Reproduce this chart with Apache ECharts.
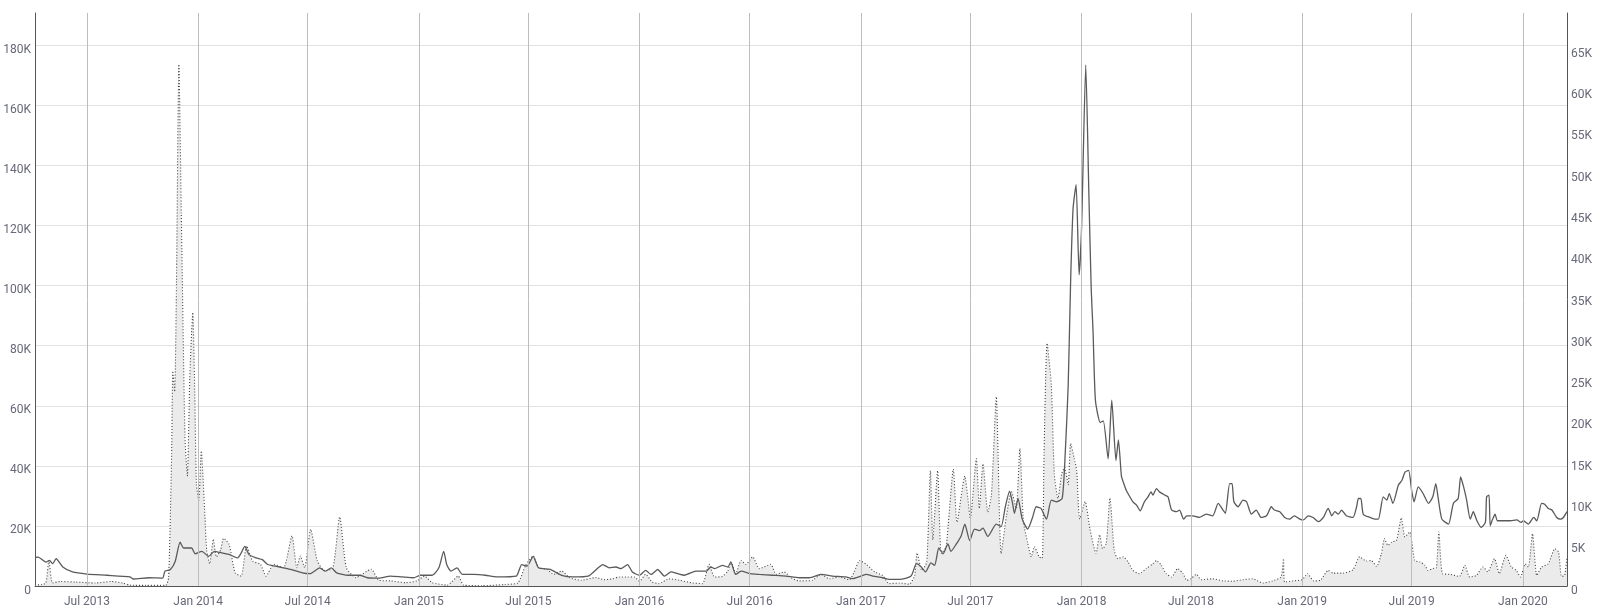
<!DOCTYPE html>
<html>
<head>
<meta charset="utf-8">
<script src="https://cdn.jsdelivr.net/npm/echarts@6/dist/echarts.min.js"></script>
<style>
html,body{margin:0;padding:0;background:#fff;}
#chart{width:1600px;height:614px;}
</style>
</head>
<body>
<div id="chart"></div>
<script>
// ---- Data (values in thousands) ----
// Dotted series with grey area (left axis)
const areaDates = ['2013-04-06','2013-04-17','2013-04-24','2013-04-29','2013-05-05','2013-05-18','2013-06-13','2013-07-15','2013-08-10','2013-08-29','2013-09-10','2013-10-06','2013-11-08','2013-11-13','2013-11-18','2013-11-20','2013-11-23','2013-11-26','2013-11-30','2013-12-04','2013-12-10','2013-12-14','2013-12-18','2013-12-21','2013-12-23','2013-12-26','2013-12-29','2014-01-02','2014-01-06','2014-01-12','2014-01-15','2014-01-20','2014-01-26','2014-01-31','2014-02-07','2014-02-12','2014-02-21','2014-03-03','2014-03-13','2014-03-22','2014-04-01','2014-04-14','2014-04-23','2014-05-06','2014-05-22','2014-06-05','2014-06-13','2014-06-19','2014-06-26','2014-07-06','2014-07-17','2014-07-30','2014-08-12','2014-08-23','2014-09-03','2014-09-19','2014-10-14','2014-10-27','2014-11-15','2014-12-10','2014-12-29','2015-01-10','2015-01-23','2015-02-17','2015-03-07','2015-03-16','2015-04-15','2015-05-23','2015-06-14','2015-06-26','2015-07-09','2015-07-18','2015-07-31','2015-08-12','2015-08-25','2015-09-07','2015-09-26','2015-10-21','2015-11-03','2015-11-17','2015-11-28','2015-12-12','2015-12-23','2016-01-01','2016-01-11','2016-01-22','2016-02-02','2016-02-19','2016-03-07','2016-03-29','2016-04-14','2016-04-25','2016-05-04','2016-05-17','2016-05-26','2016-05-31','2016-06-08','2016-06-17','2016-06-25','2016-07-06','2016-07-17','2016-08-05','2016-08-14','2016-08-27','2016-09-07','2016-09-21','2016-10-13','2016-10-27','2016-11-10','2016-11-26','2016-12-13','2016-12-21','2016-12-30','2017-01-10','2017-01-24','2017-02-06','2017-02-17','2017-03-06','2017-03-22','2017-03-31','2017-04-04','2017-04-12','2017-04-20','2017-04-26','2017-04-30','2017-05-08','2017-05-14','2017-05-22','2017-06-03','2017-06-09','2017-06-22','2017-06-27','2017-07-01','2017-07-11','2017-07-16','2017-07-22','2017-07-30','2017-08-05','2017-08-13','2017-08-21','2017-08-30','2017-09-07','2017-09-15','2017-09-21','2017-09-27','2017-10-04','2017-10-10','2017-10-15','2017-10-23','2017-10-28','2017-10-31','2017-11-05','2017-11-12','2017-11-17','2017-11-23','2017-11-29','2017-12-04','2017-12-10','2017-12-14','2017-12-20','2017-12-24','2017-12-29','2018-01-07','2018-01-15','2018-01-25','2018-01-31','2018-02-05','2018-02-11','2018-02-17','2018-02-24','2018-03-02','2018-03-11','2018-03-19','2018-03-27','2018-04-07','2018-04-18','2018-04-29','2018-05-05','2018-05-13','2018-05-21','2018-05-30','2018-06-09','2018-06-18','2018-06-24','2018-07-01','2018-07-10','2018-07-18','2018-08-06','2018-08-23','2018-09-08','2018-09-25','2018-10-11','2018-10-28','2018-11-13','2018-11-27','2018-12-01','2018-12-03','2018-12-17','2019-01-01','2019-01-10','2019-01-20','2019-01-31','2019-02-13','2019-02-21','2019-03-10','2019-03-26','2019-04-06','2019-04-17','2019-04-25','2019-05-04','2019-05-12','2019-05-17','2019-05-23','2019-05-29','2019-06-06','2019-06-14','2019-06-20','2019-06-28','2019-07-06','2019-07-15','2019-07-23','2019-07-28','2019-08-05','2019-08-11','2019-08-15','2019-08-21','2019-09-02','2019-09-18','2019-09-27','2019-10-05','2019-10-16','2019-10-27','2019-11-04','2019-11-15','2019-11-23','2019-12-04','2019-12-13','2019-12-21','2019-12-28','2020-01-05','2020-01-10','2020-01-17','2020-01-24','2020-02-01','2020-02-12','2020-02-23','2020-02-29','2020-03-05','2020-03-10','2020-03-14'];
const areaValues = [0.3,0.5,1.0,8.5,1.0,1.5,1.3,1.0,1.5,1.0,0.3,0.2,0.2,2.8,44,71.6,64.7,101,173.7,124,49.8,36.6,69.3,84.2,91.1,67,33.8,28.6,45,23.5,12,7.4,15.6,9.7,12,15.9,13.9,4.4,3.3,13.3,8.3,7.2,3.3,7.2,6.1,16.7,6.1,10,6.1,18.9,8.3,5,6.1,23,6.1,2.8,5.6,1.9,1.7,1.1,1.7,3.3,1.1,0.3,3.3,0.3,0.1,0.5,1.1,6.7,10,6.1,5.6,3.9,5,2.8,1.9,2.8,2.1,2.4,3.0,3.0,3.0,1.6,3.9,1.3,0.8,2.4,1.9,1.0,0.8,7.2,3.0,3.2,5.0,8.0,4.1,8.5,7.2,9.7,5.8,7.2,3.9,4.7,2.8,1.7,1.9,3.9,2.4,3.0,2.1,4.7,8.5,7.2,4.7,3.5,0.8,1.0,0.6,3.5,11,5.2,8,38.4,15.4,38.4,10.8,13.1,38.9,21.2,36.6,29.2,22.3,42.4,25.8,40.7,24.6,30.3,63.0,10.8,23.5,31.5,25.8,45.8,21.2,14.3,9.7,13.1,9.7,9.2,44.1,80.8,67,37.2,29.2,37.2,39.5,33.7,47.5,42.4,38.4,22.3,28.1,18.9,10.8,17.1,12.4,14.3,29.3,12,9.1,9.7,8.0,5.2,4.1,5.8,7.4,8.5,6.9,4.1,3.0,5.8,4.1,1.9,2.4,3.9,2.1,2.4,1.7,1.6,2.1,2.4,1.0,1.7,3.0,9.1,1.3,1.7,2.1,4.1,1.7,1.9,5.2,4.3,4.3,5.4,9.7,8.3,8.5,6.5,10.8,15.8,13.5,14.6,15.2,22.7,16.3,18,8.5,8.0,6.9,5.2,5.8,6.1,18.0,4.1,3.9,3.2,6.9,3.0,3.5,6.3,4.7,9.1,4.1,10.2,6.3,5.2,3.0,7.4,6.3,17.4,3.5,6.3,7.4,12.4,11.3,3.2,3.5,9.7];

// Solid line series (right axis)
const lineDates = ['2013-04-06','2013-04-11','2013-04-24','2013-04-30','2013-05-05','2013-05-11','2013-05-22','2013-06-07','2013-07-01','2013-08-03','2013-09-10','2013-09-16','2013-10-12','2013-11-03','2013-11-07','2013-11-16','2013-11-24','2013-12-02','2013-12-08','2013-12-21','2013-12-27','2014-01-07','2014-01-18','2014-01-28','2014-02-09','2014-02-22','2014-03-07','2014-03-13','2014-03-19','2014-03-26','2014-04-07','2014-04-17','2014-04-26','2014-05-09','2014-05-22','2014-06-03','2014-06-22','2014-07-05','2014-07-21','2014-07-30','2014-08-09','2014-08-18','2014-09-06','2014-09-25','2014-10-08','2014-10-27','2014-11-15','2014-12-04','2014-12-23','2015-01-04','2015-01-23','2015-02-03','2015-02-11','2015-02-16','2015-02-23','2015-03-05','2015-03-14','2015-04-02','2015-04-21','2015-05-10','2015-06-11','2015-06-20','2015-06-29','2015-07-09','2015-07-18','2015-08-06','2015-08-25','2015-09-13','2015-10-08','2015-10-26','2015-11-01','2015-11-12','2015-11-23','2015-12-01','2015-12-12','2015-12-20','2016-01-01','2016-01-11','2016-01-20','2016-01-31','2016-02-11','2016-02-22','2016-03-04','2016-03-15','2016-04-03','2016-04-20','2016-04-28','2016-05-04','2016-05-17','2016-05-26','2016-05-31','2016-06-08','2016-06-17','2016-07-02','2016-07-17','2016-08-08','2016-08-30','2016-09-21','2016-10-08','2016-10-27','2016-11-15','2016-12-07','2016-12-18','2017-01-01','2017-01-10','2017-01-21','2017-02-06','2017-02-17','2017-03-06','2017-03-25','2017-04-03','2017-04-11','2017-04-18','2017-04-27','2017-05-03','2017-05-10','2017-05-17','2017-05-25','2017-05-30','2017-06-08','2017-06-16','2017-06-22','2017-06-30','2017-07-08','2017-07-16','2017-07-22','2017-07-30','2017-08-13','2017-08-21','2017-08-28','2017-09-04','2017-09-09','2017-09-12','2017-09-18','2017-09-25','2017-10-04','2017-10-12','2017-10-18','2017-10-26','2017-11-04','2017-11-12','2017-11-20','2017-11-30','2017-12-05','2017-12-10','2017-12-14','2017-12-18','2017-12-23','2017-12-28','2018-01-01','2018-01-08','2018-01-13','2018-01-17','2018-01-20','2018-01-24','2018-02-01','2018-02-06','2018-02-14','2018-02-20','2018-02-27','2018-03-03','2018-03-08','2018-03-11','2018-03-16','2018-03-22','2018-03-27','2018-04-02','2018-04-08','2018-04-15','2018-04-21','2018-04-26','2018-04-29','2018-05-05','2018-05-10','2018-05-19','2018-05-24','2018-05-30','2018-06-07','2018-06-12','2018-06-19','2018-06-24','2018-07-04','2018-07-15','2018-07-26','2018-08-06','2018-08-15','2018-08-23','2018-08-27','2018-09-03','2018-09-07','2018-09-10','2018-09-17','2018-09-25','2018-10-01','2018-10-09','2018-10-17','2018-10-25','2018-11-03','2018-11-11','2018-11-16','2018-11-25','2018-12-03','2018-12-11','2018-12-19','2018-12-28','2019-01-03','2019-01-11','2019-01-19','2019-01-28','2019-02-05','2019-02-13','2019-02-19','2019-02-24','2019-03-02','2019-03-07','2019-03-15','2019-03-26','2019-04-01','2019-04-04','2019-04-08','2019-04-12','2019-04-23','2019-05-01','2019-05-07','2019-05-15','2019-05-21','2019-05-25','2019-05-31','2019-06-09','2019-06-15','2019-06-20','2019-06-26','2019-07-01','2019-07-05','2019-07-12','2019-07-20','2019-07-29','2019-08-05','2019-08-10','2019-08-14','2019-08-20','2019-08-31','2019-09-08','2019-09-16','2019-09-20','2019-09-25','2019-09-30','2019-10-06','2019-10-11','2019-10-17','2019-10-24','2019-10-31','2019-11-02','2019-11-06','2019-11-08','2019-11-12','2019-11-16','2019-11-20','2019-11-30','2019-12-11','2019-12-22','2019-12-29','2020-01-02','2020-01-10','2020-01-19','2020-01-24','2020-02-01','2020-02-06','2020-02-12','2020-02-18','2020-02-26','2020-03-03','2020-03-08','2020-03-14'];
const lineValues = [3.45,3.5,2.9,3.1,2.7,3.3,2.3,1.7,1.45,1.3,1.1,0.85,1.0,0.95,1.8,2.0,3.0,5.3,4.6,4.6,3.9,4.2,3.6,4.2,4.0,3.8,3.4,4.0,4.8,3.8,3.4,3.2,2.6,2.4,2.2,2.0,1.6,1.5,2.2,1.8,2.2,1.6,1.3,1.3,1.0,0.95,1.2,1.1,1.0,1.3,1.3,2.2,4.2,2.6,1.8,2.2,1.4,1.4,1.3,1.1,1.2,2.6,2.4,3.6,2.2,2.0,1.3,1.1,1.2,2.3,2.6,2.2,2.3,2.1,2.6,1.7,1.3,1.9,1.4,2.0,1.2,1.7,1.5,1.3,1.8,1.8,2.3,2.1,2.5,2.3,2.9,1.4,1.8,1.5,1.4,1.3,1.2,1.0,1.0,1.4,1.2,1.1,0.9,1.2,1.4,1.2,1.0,0.8,0.8,1.2,2.7,2.3,1.7,2.8,2.5,4.6,3.9,5.1,4.2,5.1,6.1,7.5,5.5,6.9,6.7,7.0,6.0,7.5,7.2,9.6,11.5,10.0,8.8,10.6,8.1,6.9,8.3,9.6,9.4,8.1,10.4,10.2,10.6,16.0,24.4,37,45.7,48.6,37.7,43.2,63.1,48,36,31,22.5,19.8,20.0,15.4,22.5,15.2,17.7,13.3,12.6,11.6,10.8,10.2,9.8,9.1,10.2,10.8,11.4,11.0,11.8,11.4,11.0,10.8,9.2,9.0,9.2,8.1,8.5,8.5,8.3,8.7,8.5,10.0,9.2,8.8,12.4,12.4,10.2,9.6,10.4,10.2,8.7,9.2,8.3,8.5,9.6,9.2,9.0,8.3,8.1,8.5,8.1,8.0,8.5,8.3,7.8,8.3,9.4,8.5,9.0,8.7,9.2,8.5,8.3,9.6,10.6,10.6,8.7,8.3,8.1,8.1,10.8,10.4,11.2,10.0,12.2,12.8,13.8,14.0,11.6,10.2,12.0,11.2,10.0,10.8,12.4,10.6,8.1,7.5,10.0,10.6,13.2,12.0,10.4,8.1,9.0,7.9,7.1,7.7,10.8,11.0,7.3,8.1,8.7,7.9,7.9,7.9,8.0,7.7,7.9,7.5,8.3,7.9,10.0,9.9,9.4,9.2,8.3,8.1,8.3,9.0];

// Axis ticks
const xTickDates = ['2013-07-01','2014-01-01','2014-07-01','2015-01-01','2015-07-01','2016-01-01','2016-07-01','2017-01-01','2017-07-01','2018-01-01','2018-07-01','2019-01-01','2019-07-01','2020-01-01'];
const monthNames = ['Jan','Feb','Mar','Apr','May','Jun','Jul','Aug','Sep','Oct','Nov','Dec'];
const xMin = '2013-04-06';
const xMax = '2020-03-14';

function toTs(s){ const p = s.split('-').map(Number); return new Date(p[0], p[1]-1, p[2]).getTime(); }
function fmtDate(v){ const d = new Date(v); return monthNames[d.getMonth()] + ' ' + d.getFullYear(); }

const textColor = '#676878';
const font = 'Roboto, "Noto Sans", sans-serif';

const chart = echarts.init(document.getElementById('chart'), null, {renderer:'canvas'});
chart.setOption({
  animation: false,
  backgroundColor: '#fff',
  grid: {left: 35, right: 33, top: 13, bottom: 28, containLabel: false},
  xAxis: {
    type: 'time',
    min: toTs(xMin),
    max: toTs(xMax),
    axisLine: {show: true, lineStyle: {color: '#555', width: 1}},
    axisTick: {show: false},
    axisLabel: {show: false},
    splitLine: {show: false}
  },
  yAxis: [
    {
      type: 'value', position: 'left', min: 0, max: 190.8, interval: 20,
      axisLine: {show: true, lineStyle: {color: '#555', width: 1}},
      axisTick: {show: false},
      axisLabel: {color: textColor, fontSize: 12, fontFamily: font, margin: 4,
        verticalAlign: 'top', lineHeight: 9,
        showMaxLabel: false,
        formatter: function(v){ return v === 0 ? '0' : Math.round(v) + 'K'; }},
      splitLine: {show: true, showMaxLine: false, lineStyle: {color: '#e2e2e2', width: 1}}
    },
    {
      type: 'value', position: 'right', min: 0, max: 69.4, interval: 5,
      axisLine: {show: true, lineStyle: {color: '#555', width: 1}},
      axisTick: {show: false},
      axisLabel: {color: textColor, fontSize: 12, fontFamily: font, margin: 4,
        verticalAlign: 'top', lineHeight: 9,
        showMaxLabel: false,
        formatter: function(v){ return v === 0 ? '0' : Math.round(v) + 'K'; }},
      splitLine: {show: false}
    }
  ],
  series: [
    {
      type: 'line', yAxisIndex: 0, symbol: 'none', smooth: 0.2,
      data: areaDates.map((d, i) => [toTs(d), areaValues[i]]),
      lineStyle: {color: '#444', width: 1.1, type: [1, 2]},
      areaStyle: {color: '#ebebeb', opacity: 1},
      z: 2,
      markLine: {
        silent: true,
        symbol: ['none', 'none'],
        precision: 10,
        lineStyle: {color: '#bdbdbd', width: 1, type: 'solid'},
        label: {show: true, position: 'start', distance: 10, color: textColor, fontSize: 12, fontFamily: font,
          formatter: function(p){ return fmtDate(p.value); }},
        data: xTickDates.map(d => ({xAxis: toTs(d)}))
      }
    },
    {
      type: 'line', yAxisIndex: 1, symbol: 'none', smooth: 0.2,
      data: lineDates.map((d, i) => [toTs(d), lineValues[i]]),
      lineStyle: {color: '#5a5a5a', width: 1.3},
      z: 3
    }
  ]
});
</script>
</body>
</html>
